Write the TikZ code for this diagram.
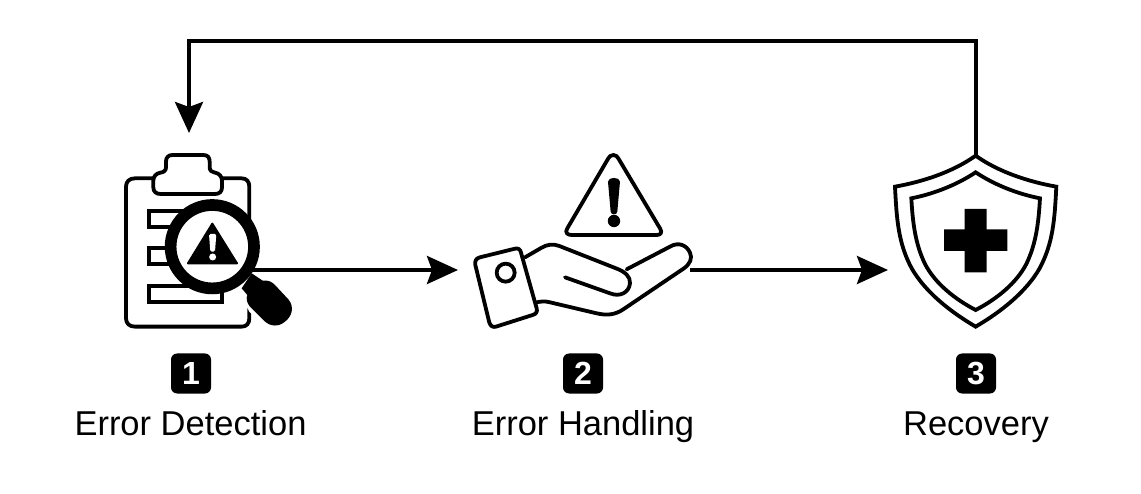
\documentclass[tikz,border=0pt]{standalone}
\usepackage{fontspec}
\setmainfont{Liberation Sans}
\usetikzlibrary{arrows.meta}
\tikzset{
  every picture/.style={x=1pt,y=-1pt},
  icon/.style={line width=3.8pt,line join=round,line cap=round},
  conn/.style={line width=3.8pt,-{Stealth[length=31pt,width=28pt,inset=5pt]}},
  zone/.style={x=0.3333pt,y=-0.3333pt},
  badge/.style={fill=black,rounded corners=6pt,minimum size=40pt,inner sep=0pt,text=white,font=\fontsize{32}{33}\selectfont\bfseries},
  caption/.style={anchor=base,inner sep=0pt,font=\fontsize{34.5}{40}\selectfont}
}
\begin{document}
\begin{tikzpicture}
\useasboundingbox (0,0) rectangle (1141,494);
\coordinate (detIn) at (189,133);
\coordinate (detOut) at (250,270);
\coordinate (hanIn) at (458,270);
\coordinate (hanOut) at (690,270);
\coordinate (recIn) at (888,270);
\coordinate (recOut) at (976,157);
\coordinate (topL) at (189,41);
\coordinate (topR) at (976,41);
% connectors
\draw[conn] (hanOut) -- (recIn);
\draw[conn] (recOut) -- (topR) -- (topL) -- (detIn);
% clipboard
\begin{scope}[shift={(100,130)},zone]
\draw[icon] (160,145) -- (105,145) .. controls (88,145) and (78,155) .. (78,170) -- (78,565) .. controls (78,580) and (88,590) .. (105,590) -- (425,590) .. controls (440,590) and (448,580) .. (448,565) -- (448,170) .. controls (448,155) and (440,145) .. (425,145) -- (367,145);
\draw[icon,fill=white] (198,112) -- (198,95) .. controls (198,82) and (205,75) .. (218,75) -- (310,75) .. controls (323,75) and (329,82) .. (329,95) -- (329,112) .. controls (329,122) and (336,127) .. (345,128) .. controls (358,130) and (366,140) .. (366,152) -- (366,172) .. controls (366,185) and (358,192) .. (345,192) -- (182,192) .. controls (168,192) and (160,185) .. (160,172) -- (160,152) .. controls (160,140) and (168,130) .. (181,128) .. controls (191,127) and (198,122) .. (198,112) -- cycle;
\draw[icon,line cap=butt,line join=miter] (148,242) rectangle (300,290);
\draw[icon,line cap=butt,line join=miter] (148,355) rectangle (300,402);
\draw[icon,line cap=butt,line join=miter] (148,467) rectangle (367,515);
% handle
\fill[white] (395,450) -- (475,400) -- (600,540) -- (510,610) -- (448,545) -- cycle;
\fill (425,475) -- (455,430) -- (488,452) .. controls (505,450) and (515,455) .. (525,465) -- (565,508) .. controls (585,532) and (575,560) .. (555,575) .. controls (535,592) and (510,590) .. (492,572) -- (450,530) .. controls (440,518) and (438,505) .. (442,495) -- cycle;
\end{scope}
\draw[conn] (detOut) -- (hanIn);
\node[circle,draw,line width=11.7pt,fill=white,minimum size=83.4pt,inner sep=0pt] (lens) at (212.3,246.7) {};
\begin{scope}[shift={(100,130)},zone]
\fill[draw,line width=2pt,line join=round] (337,281) -- (264,400) -- (411,400) -- cycle;
\fill[white,rounded corners=1.5pt] (327,312) -- (349,312) -- (345,365) -- (331,365) -- cycle;
\fill[white] (338,381) circle [radius=3.5pt];
\end{scope}
% hand and warning
\begin{scope}[shift={(460,140)},zone]
\draw[icon] (460,45) .. controls (452,45) and (448,50) .. (445,55) -- (322,265) .. controls (314,278) and (322,285) .. (335,285) -- (590,285) .. controls (602,285) and (608,278) .. (600,265) -- (475,55) .. controls (472,50) and (468,45) .. (460,45) -- cycle;
\fill (444,125) .. controls (444,110) and (480,110) .. (480,125) -- (472,215) .. controls (471,226) and (453,226) .. (452,215) -- cycle;
\fill (462,243) circle [radius=6.2pt];
\draw[icon] (60,352) -- (165,326) .. controls (175,324) and (181,328) .. (183,338) -- (230,505) .. controls (233,516) and (228,522) .. (218,525) -- (108,560) .. controls (98,563) and (92,558) .. (88,548) -- (46,375) .. controls (44,363) and (48,355) .. (60,352) -- cycle;
\draw[icon] (137,398) circle [radius=9pt];
\draw[icon] (195,352) -- (245,323) .. controls (262,313) and (280,311) .. (298,318) -- (468,385) .. controls (495,395) and (512,410) .. (510,430) .. controls (507,458) and (480,472) .. (450,460) -- (315,412);
\draw[icon] (228,488) .. controls (240,484) and (255,483) .. (270,487) -- (410,520) .. controls (440,527) and (465,525) .. (490,508) -- (672,385) .. controls (690,372) and (698,355) .. (690,338) .. controls (680,315) and (655,305) .. (630,320) -- (500,388);
\end{scope}
% shield
\begin{scope}[shift={(870,140)},zone]
\draw[icon,line join=miter] (317,47) .. controls (250,95) and (160,125) .. (75,140) .. controls (80,240) and (85,310) .. (125,385) .. controls (165,455) and (240,515) .. (317,560) .. controls (394,515) and (469,455) .. (509,385) .. controls (549,310) and (554,240) .. (559,140) .. controls (474,125) and (384,95) .. (317,47) -- cycle;
\draw[icon,line join=miter] (317,97) .. controls (260,135) and (190,162) .. (124,175) .. controls (128,245) and (135,310) .. (165,372) .. controls (195,430) and (255,478) .. (317,510) .. controls (379,478) and (439,430) .. (469,372) .. controls (499,310) and (506,245) .. (510,175) .. controls (444,162) and (374,135) .. (317,97) -- cycle;
\fill (284,207) -- (350,207) -- (350,268) -- (412,268) -- (412,333) -- (350,333) -- (350,397) -- (284,397) -- (284,333) -- (222,333) -- (222,268) -- (284,268) -- cycle;
\end{scope}
% labels
\node[badge] (b1) at (191,373.5) {1};
\node[badge] (b2) at (583,373.5) {2};
\node[badge] (b3) at (976,373.5) {3};
\node[caption] (l1) at (190.5,435) {Error Detection};
\node[caption] (l2) at (583,435) {Error Handling};
\node[caption] (l3) at (976,435) {Recovery};
\end{tikzpicture}
\end{document}
